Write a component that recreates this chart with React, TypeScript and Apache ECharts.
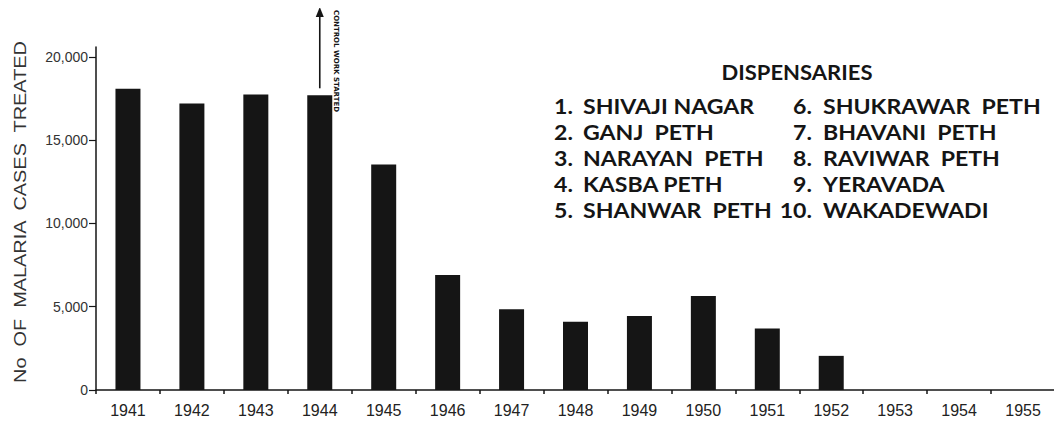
import React, { useEffect, useRef } from 'react';
import * as echarts from 'echarts';

const years = ['1941', '1942', '1943', '1944', '1945', '1946', '1947', '1948', '1949', '1950', '1951', '1952', '1953', '1954', '1955'];
const cases = [18100, 17200, 17750, 17700, 13550, 6900, 4850, 4100, 4450, 5650, 3700, 2050, 0, 0, 0];
const yTicks = [0, 5000, 10000, 15000, 20000];
const yTickLabels = ['0', '5,000', '10,000', '15,000', '20,000'];
const legendTitle = 'DISPENSARIES';
const dispensaryNumbers = ['1.', '2.', '3.', '4.', '5.', '6.', '7.', '8.', '9.', '10.'];
const dispensaryNames = [
  'SHIVAJI NAGAR', 'GANJ  PETH', 'NARAYAN  PETH', 'KASBA PETH', 'SHANWAR  PETH',
  'SHUKRAWAR  PETH', 'BHAVANI  PETH', 'RAVIWAR  PETH', 'YERAVADA', 'WAKADEWADI',
];
const yAxisTitle = 'No  OF  MALARIA  CASES  TREATED';
const annotation = 'CONTROL WORK STARTED';
const annotationYear = '1944';

const INK = '#151515';

export default function App() {
  const ref = useRef<HTMLDivElement>(null);
  useEffect(() => {
    if (!ref.current) return;
    const chart = echarts.init(ref.current, null, { renderer: 'svg' });
    chart.setOption({
      animation: false,
      backgroundColor: '#ffffff',
      grid: { left: 96, right: 7, top: 47, bottom: 34, containLabel: false },
      xAxis: {
        type: 'category',
        data: years,
        boundaryGap: true,
        axisLine: { lineStyle: { color: INK, width: 1.5 } },
        axisTick: { show: true, alignWithLabel: false, length: 4, inside: false, lineStyle: { color: INK, width: 1.5 } },
        axisLabel: { color: '#222', fontFamily: 'Liberation Sans', fontSize: 16, margin: 12 },
        splitLine: { show: false },
      },
      yAxis: {
        type: 'value',
        min: 0,
        max: 20600,
        axisLine: { show: true, lineStyle: { color: INK, width: 1.5 } },
        axisTick: { show: true, length: 7, customValues: yTicks, lineStyle: { color: INK, width: 1.2 } },
        axisLabel: {
          customValues: yTicks,
          color: '#333',
          fontFamily: 'Liberation Sans',
          fontSize: 14,
          margin: 8,
          formatter: (v: number) => {
            const i = yTicks.indexOf(v);
            return i >= 0 ? yTickLabels[i] : '';
          },
        },
        splitLine: { show: false },
      },
      series: [
        {
          type: 'bar',
          data: cases,
          barWidth: 25,
          itemStyle: { color: INK },
        },
      ],
    });

    const idx = years.indexOf(annotationYear);
    const [ax, ay] = chart.convertToPixel({ xAxisIndex: 0, yAxisIndex: 0 }, [idx, cases[idx]]) as number[];
    const arrowX = ax;
    const legendFont = { fill: INK, fontFamily: 'Lato', fontWeight: 'bold', verticalAlign: 'middle' };
    const graphic: any[] = [
      {
        type: 'text',
        x: 20,
        y: 212,
        rotation: Math.PI / 2,
        scaleX: 1.17,
        style: {
          text: yAxisTitle,
          fill: '#333',
          fontFamily: 'Liberation Sans',
          fontSize: 17,
          align: 'center',
          verticalAlign: 'middle',
        },
      },
      {
        type: 'line',
        shape: { x1: arrowX, y1: 12, x2: arrowX, y2: ay - 7 },
        style: { stroke: INK, lineWidth: 1.6 },
      },
      {
        type: 'polygon',
        shape: { points: [[arrowX, 7], [arrowX - 4, 17], [arrowX + 4, 17]] },
        style: { fill: INK },
      },
      {
        type: 'text',
        x: arrowX + 16,
        y: 10,
        rotation: -Math.PI / 2,
        style: {
          text: annotation,
          fill: INK,
          fontFamily: 'DejaVu Sans',
          fontWeight: 'bold',
          fontSize: 7,
          align: 'left',
          verticalAlign: 'middle',
        },
      },
      {
        type: 'text',
        x: 797,
        y: 72,
        scaleX: 1.1,
        style: { ...legendFont, text: legendTitle, fontSize: 20, align: 'center' },
      },
    ];
    dispensaryNames.forEach((name, i) => {
      const col = i < 5 ? 0 : 1;
      const row = i % 5;
      const y = 106 + row * 26;
      const numRight = col === 0 ? 573 : 812;
      const nameLeft = col === 0 ? 583 : 823;
      graphic.push({
        type: 'text',
        x: numRight,
        y,
        scaleX: 1.1,
        style: { ...legendFont, text: dispensaryNumbers[i], fontSize: 21, align: 'right' },
      });
      graphic.push({
        type: 'text',
        x: nameLeft,
        y,
        scaleX: 1.1,
        style: { ...legendFont, text: name, fontSize: 21, align: 'left' },
      });
    });
    chart.setOption({ graphic });

    return () => chart.dispose();
  }, []);
  return <div ref={ref} style={{ width: 1062, height: 424, margin: -8 }} />;
}
